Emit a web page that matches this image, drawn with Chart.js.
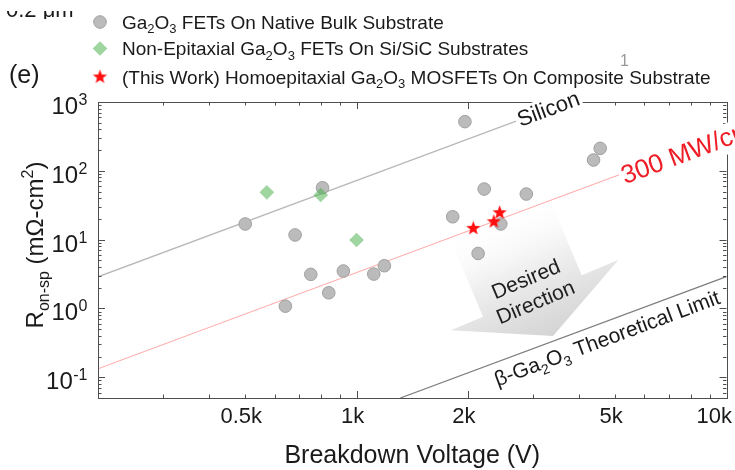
<!DOCTYPE html>
<html lang="en">
<head>
<meta charset="utf-8">
<title>Ron-sp x Breakdown Voltage</title>
<script src="https://cdn.jsdelivr.net/npm/chart.js@4.4.1/dist/chart.umd.min.js"></script>
<style>
    html, body { margin: 0; padding: 0; background: #fff; }
    #wrap { width: 735px; height: 470px; position: relative; }
</style>
</head>
<body>
<div id="wrap"><canvas id="grafico"></canvas></div>
<script>
// Ga2O3 FETs em substrato nativo (V, mOhm-cm2)
const NATIVO_V = [500, 642, 682, 752, 809, 841, 921, 1113, 1189, 1819, 1963, 2131, 2213, 2454, 2876, 4371, 4556];
const NATIVO_R = [16.9, 1.08, 11.7, 3.13, 56.8, 1.69, 3.5, 3.16, 4.18, 21.5, 518, 6.3, 54.4, 16.9, 46, 143.6, 212];
// nao-epitaxiais em Si/SiC
const NAO_EPI_V = [572, 800, 1000];
const NAO_EPI_R = [48.7, 44.5, 9.87];
// este trabalho
const ESTE_V = [2068, 2350, 2437];
const ESTE_R = [14.6, 18.2, 24.6];
// retas de limite (extremos)
const SILICIO_V = [200, 2700];
const SILICIO_R = [2.89, 528];
const BFOM_V = [200, 5130];
const BFOM_R = [0.133, 87.7];
const LIMITE_V = [1313, 10000];
const LIMITE_R = [0.05, 2.9];

const TICKS_X = [500, 1000, 2000, 5000, 10000];
const ROTULOS_X = ['0.5k', '1k', '2k', '5k', '10k'];
const EXPOENTES_Y = [-1, 0, 1, 2, 3];

const FONTE = "'Liberation Sans', Arial, sans-serif";
const SETA_ANCORA = { v: 3030, r: 1.57 };

function pares(xs, ys) {
    return xs.map((v, i) => ({ x: v, y: ys[i] }));
}

// 'Ga_{2}O_{3}' -> partes com sub/sobrescrito
function partes(texto) {
    const out = [];
    const re = /([_^])\{([^}]*)\}|([^_^]+)/g;
    let m;
    while ((m = re.exec(texto))) {
        if (m[3]) out.push({ t: m[3] });
        else out.push({ t: m[2], sub: m[1] === '_', sup: m[1] === '^' });
    }
    return out;
}

function textoRico(ctx, texto, x, y, tam, cor, soMedir) {
    let cx = x;
    partes(texto).forEach(p => {
        const pequeno = p.sub || p.sup;
        ctx.font = (pequeno ? Math.round(tam * 0.66) : tam) + 'px ' + FONTE;
        const dy = p.sub ? tam * 0.26 : (p.sup ? -tam * 0.4 : 0);
        if (!soMedir) {
            ctx.fillStyle = cor;
            ctx.fillText(p.t, cx, y + dy);
        }
        cx += ctx.measureText(p.t).width;
    });
    return cx - x;
}

function criarEstrela(raio, cor) {
    const c = document.createElement('canvas');
    const tam = Math.ceil(raio * 2 + 2);
    c.width = tam;
    c.height = tam;
    const g = c.getContext('2d');
    g.fillStyle = cor;
    g.beginPath();
    for (let i = 0; i < 10; i++) {
        const r = i % 2 === 0 ? raio : raio * 0.42;
        const a = -Math.PI / 2 + i * Math.PI / 5;
        g.lineTo(tam / 2 + r * Math.cos(a), tam / 2 + r * Math.sin(a));
    }
    g.closePath();
    g.fill();
    return c;
}

const ESTRELA = criarEstrela(7.5, '#ff1010');

const ESTILO_NATIVO = { pointStyle: 'circle', radius: 6.3, backgroundColor: 'rgb(187,187,187)', borderColor: 'rgb(160,160,160)', borderWidth: 1 };
const ESTILO_NAO_EPI = { pointStyle: 'rectRot', radius: 7.3, backgroundColor: 'rgba(70,175,70,0.52)', borderColor: 'rgba(70,175,70,0.52)', borderWidth: 0 };
const ESTILO_ESTE = { pointStyle: ESTRELA, radius: 7.5, backgroundColor: '#ff1010', borderColor: '#ff1010', borderWidth: 0 };

function angulo(chart, xs, ys) {
    const a = chart.scales.x, b = chart.scales.y;
    const dx = a.getPixelForValue(xs[1]) - a.getPixelForValue(xs[0]);
    const dy = b.getPixelForValue(ys[1]) - b.getPixelForValue(ys[0]);
    return Math.atan2(dy, dx);
}

function ticksLog(min, max) {
    const lista = [];
    for (let dec = Math.floor(Math.log10(min)); dec <= Math.ceil(Math.log10(max)); dec++) {
        for (let k = 1; k <= 9; k++) {
            const v = k * Math.pow(10, dec);
            if (v >= min * 0.999 && v <= max * 1.001) lista.push({ v: v, k: k });
        }
    }
    return lista;
}

// seta "Desired Direction" fica por baixo dos pontos
const setaPlugin = {
    id: 'seta',
    beforeDatasetsDraw(chart) {
        const { ctx, scales: { x, y } } = chart;
        const cx = x.getPixelForValue(SETA_ANCORA.v);
        const cy = y.getPixelForValue(SETA_ANCORA.r);
        ctx.save();
        ctx.translate(cx, cy);
        ctx.rotate(-22.8 * Math.PI / 180);
        const grad = ctx.createLinearGradient(0, -90, 0, 44);
        grad.addColorStop(0, 'rgba(255,255,255,0)');
        grad.addColorStop(0.45, 'rgb(240,240,240)');
        grad.addColorStop(1, 'rgb(212,212,212)');
        ctx.fillStyle = grad;
        ctx.beginPath();
        ctx.moveTo(-56, -90);
        ctx.lineTo(51, -90);
        ctx.lineTo(51, 0);
        ctx.lineTo(91, 0);
        ctx.lineTo(1, 45);
        ctx.lineTo(-91, 0);
        ctx.lineTo(-56, 0);
        ctx.closePath();
        ctx.fill();
        ctx.fillStyle = '#1e1e1e';
        ctx.font = '21px ' + FONTE;
        ctx.textAlign = 'center';
        ctx.textBaseline = 'middle';
        ctx.fillText('Desired', -2, -17);
        ctx.fillText('Direction', -2, 8);
        ctx.restore();
    }
};

const molduraPlugin = {
    id: 'moldura',
    afterDatasetsDraw(chart) {
        const { ctx, chartArea: a, scales: { x, y } } = chart;
        ctx.save();
        ctx.strokeStyle = '#4d4d4d';
        ctx.lineWidth = 1;
        ctx.strokeRect(Math.round(a.left) + 0.5, Math.round(a.top) + 0.5, Math.round(a.right - a.left), Math.round(a.bottom - a.top));
        ctx.beginPath();
        ticksLog(x.min, x.max).forEach(t => {
            const xp = Math.round(x.getPixelForValue(t.v)) + 0.5;
            const len = (t.v === 1000 || t.v === 2000) ? 7 : 3.5;
            ctx.moveTo(xp, a.bottom);
            ctx.lineTo(xp, a.bottom - len);
            ctx.moveTo(xp, a.top);
            ctx.lineTo(xp, a.top + len);
        });
        ticksLog(y.min, y.max).forEach(t => {
            const yp = Math.round(y.getPixelForValue(t.v)) + 0.5;
            const len = t.k === 1 ? 7 : 3.5;
            ctx.moveTo(a.left, yp);
            ctx.lineTo(a.left + len, yp);
            ctx.moveTo(a.right, yp);
            ctx.lineTo(a.right - len, yp);
        });
        ctx.stroke();

        // rotulos do eixo x
        ctx.fillStyle = '#1a1a1a';
        ctx.font = '22px ' + FONTE;
        ctx.textAlign = 'center';
        ctx.textBaseline = 'alphabetic';
        TICKS_X.forEach((v, i) => {
            const w = ctx.measureText(ROTULOS_X[i]).width;
            let xp = x.getPixelForValue(v) - 4;
            if (xp + w / 2 > chart.width - 3) xp = chart.width - 3 - w / 2;
            ctx.fillText(ROTULOS_X[i], xp, a.bottom + 25);
        });

        // rotulos do eixo y (10^n)
        ctx.textAlign = 'left';
        EXPOENTES_Y.forEach(e => {
            const yp = y.getPixelForValue(Math.pow(10, e));
            ctx.font = '24px ' + FONTE;
            const wb = ctx.measureText('10').width;
            ctx.font = '16px ' + FONTE;
            const we = ctx.measureText(String(e)).width;
            const x0 = a.left - 11 - wb - we;
            ctx.font = '24px ' + FONTE;
            ctx.fillText('10', x0, yp + 12);
            ctx.font = '16px ' + FONTE;
            ctx.fillText(String(e), x0 + wb + 0.5, yp + 3);
        });

        // titulos
        ctx.font = '25px ' + FONTE;
        ctx.textAlign = 'center';
        ctx.fillText('Breakdown Voltage (V)', (a.left + a.right) / 2, a.bottom + 65);

        ctx.textAlign = 'left';
        const tituloY = 'R_{on-sp} (m\u03A9-cm^{2})';
        const wy = textoRico(ctx, tituloY, 0, 0, 24, '#1a1a1a', true);
        ctx.translate(43, (a.top + a.bottom) / 2 - 5);
        ctx.rotate(-Math.PI / 2);
        textoRico(ctx, tituloY, -wy / 2, 0, 24, '#1a1a1a');
        ctx.restore();
    }
};

// rotulos das retas, alguns com fundo branco por cima da moldura
function rotuloReta(ctx, texto, px, py, ang, tam, cor, dy, fundo) {
    ctx.save();
    ctx.translate(px, py);
    ctx.rotate(ang);
    ctx.textAlign = 'left';
    ctx.textBaseline = 'alphabetic';
    const w = textoRico(ctx, texto, 0, 0, tam, cor, true);
    if (fundo) {
        ctx.fillStyle = '#fff';
        ctx.fillRect(0, dy - tam * 0.85, w + 4, tam * 1.15);
    }
    textoRico(ctx, texto, 2, dy, tam, cor);
    ctx.restore();
}

const rotulosPlugin = {
    id: 'rotulos',
    afterDraw(chart) {
        const { ctx, scales: { x, y } } = chart;
        const angSi = angulo(chart, SILICIO_V, SILICIO_R);
        rotuloReta(ctx, 'Silicon', x.getPixelForValue(SILICIO_V[1]), y.getPixelForValue(SILICIO_R[1]), angSi, 22, '#1a1a1a', 7, true);

        const angB = angulo(chart, BFOM_V, BFOM_R);
        rotuloReta(ctx, '300 MW/cm^{2}', x.getPixelForValue(BFOM_V[1]), y.getPixelForValue(BFOM_R[1]), angB, 26, '#ee1c24', 11, true);

        const angL = angulo(chart, LIMITE_V, LIMITE_R);
        const vRot = 2260;
        const rRot = LIMITE_R[0] * Math.pow(vRot / LIMITE_V[0], 2);
        rotuloReta(ctx, '\u03B2-Ga_{2}O_{3} Theoretical Limit', x.getPixelForValue(vRot), y.getPixelForValue(rRot), angL, 21, '#1a1a1a', 23, false);
    }
};

const SERIES_LEGENDA = [
    { estilo: ESTILO_NATIVO, texto: 'Ga_{2}O_{3} FETs On Native Bulk Substrate' },
    { estilo: ESTILO_NAO_EPI, texto: 'Non-Epitaxial Ga_{2}O_{3} FETs On Si/SiC Substrates' },
    { estilo: ESTILO_ESTE, texto: '(This Work) Homoepitaxial Ga_{2}O_{3} MOSFETs On Composite Substrate' }
];

const legendaPlugin = {
    id: 'legendaManual',
    afterDraw(chart) {
        const ctx = chart.ctx;
        ctx.save();
        ctx.textAlign = 'left';
        ctx.textBaseline = 'alphabetic';
        const linhas = [22, 48.5, 77];
        SERIES_LEGENDA.forEach((s, i) => {
            ctx.fillStyle = s.estilo.backgroundColor;
            ctx.strokeStyle = s.estilo.borderColor;
            ctx.lineWidth = s.estilo.borderWidth;
            Chart.helpers.drawPoint(ctx, { pointStyle: s.estilo.pointStyle, radius: s.estilo.radius, rotation: 0, borderWidth: s.estilo.borderWidth }, 100, linhas[i]);
            textoRico(ctx, s.texto, 122, linhas[i] + 6.5, 19, '#1a1a1a');
        });

        ctx.font = '25px ' + FONTE;
        ctx.fillStyle = '#1a1a1a';
        ctx.fillText('(e)', 9, 83);

        ctx.font = '16px ' + FONTE;
        ctx.fillStyle = '#9a9a9a';
        ctx.fillText('1', 620, 66);

        // sobra da legenda do painel de cima
        ctx.beginPath();
        ctx.rect(0, 11, 90, 8);
        ctx.clip();
        ctx.font = '22px ' + FONTE;
        ctx.fillStyle = '#1a1a1a';
        ctx.fillText('0.2 \u03BCm', 6, 17);
        ctx.restore();
    }
};

function init() {
    Chart.defaults.font.family = FONTE;
    new Chart(document.getElementById('grafico'), {
        type: 'scatter',
        data: {
            datasets: [
                {
                    label: 'nativo', data: pares(NATIVO_V, NATIVO_R), order: 3,
                    pointStyle: ESTILO_NATIVO.pointStyle, pointRadius: ESTILO_NATIVO.radius,
                    pointBackgroundColor: ESTILO_NATIVO.backgroundColor, pointBorderColor: ESTILO_NATIVO.borderColor,
                    pointBorderWidth: ESTILO_NATIVO.borderWidth
                },
                {
                    label: 'nao-epi', data: pares(NAO_EPI_V, NAO_EPI_R), order: 2,
                    pointStyle: ESTILO_NAO_EPI.pointStyle, pointRadius: ESTILO_NAO_EPI.radius,
                    pointBackgroundColor: ESTILO_NAO_EPI.backgroundColor, pointBorderWidth: 0
                },
                {
                    label: 'este', data: pares(ESTE_V, ESTE_R), order: 1,
                    pointStyle: ESTILO_ESTE.pointStyle, pointRadius: ESTILO_ESTE.radius
                },
                {
                    label: 'silicio', data: pares(SILICIO_V, SILICIO_R), order: 5,
                    showLine: true, pointRadius: 0, borderColor: 'rgb(185,185,185)', borderWidth: 1.4
                },
                {
                    label: 'bfom', data: pares(BFOM_V, BFOM_R), order: 5,
                    showLine: true, pointRadius: 0, borderColor: 'rgb(255,175,175)', borderWidth: 1.1
                },
                {
                    label: 'limite', data: pares(LIMITE_V, LIMITE_R), order: 5,
                    showLine: true, pointRadius: 0, borderColor: 'rgb(125,125,125)', borderWidth: 1.2
                }
            ]
        },
        options: {
            animation: false,
            responsive: true,
            maintainAspectRatio: false,
            layout: { padding: { left: 98, right: 7, top: 102, bottom: 72 } },
            plugins: { legend: { display: false }, tooltip: { enabled: false } },
            scales: {
                x: { type: 'logarithmic', min: 200, max: 10000, display: false },
                y: { type: 'logarithmic', min: 0.05, max: 1000, display: false }
            }
        },
        plugins: [setaPlugin, molduraPlugin, rotulosPlugin, legendaPlugin]
    });
}

if (document.readyState === 'loading') {
    document.addEventListener('DOMContentLoaded', init);
} else {
    init();
}
</script>
</body>
</html>
